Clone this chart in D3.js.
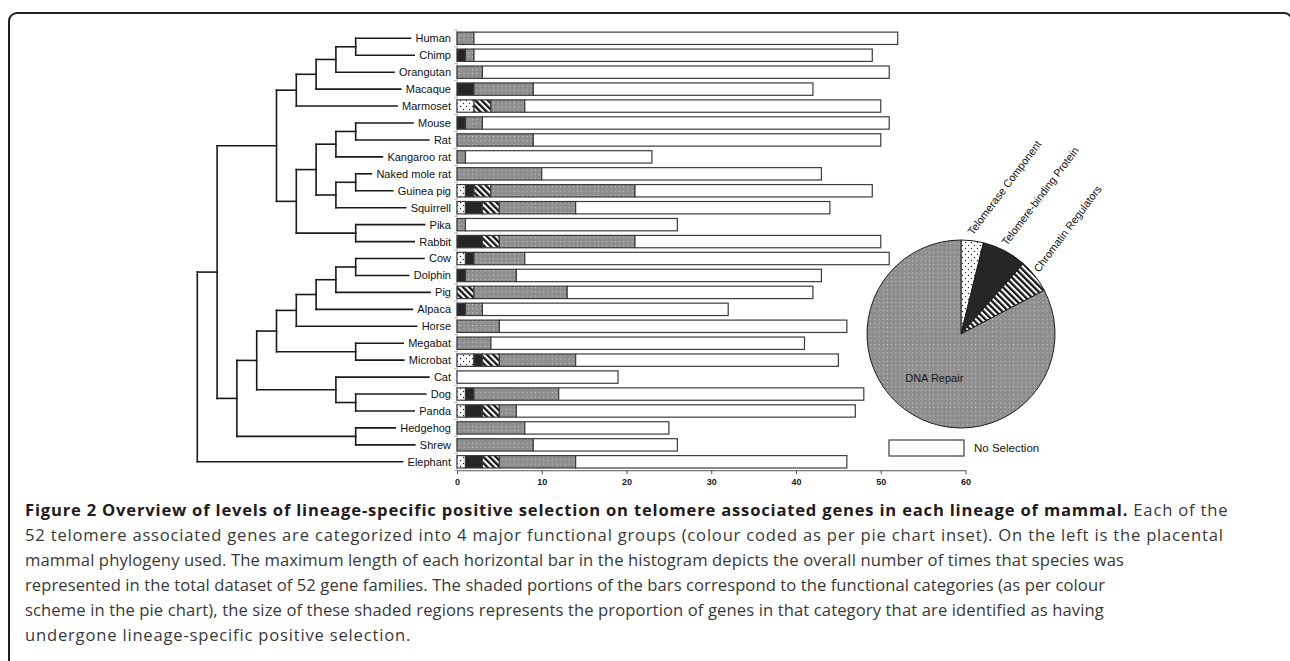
<!DOCTYPE html>
<html><head><meta charset="utf-8">
<script src="https://cdn.jsdelivr.net/npm/d3@7"></script>
<style>body{margin:0;background:#fff}svg{display:block}</style>
</head><body>
<svg id="chart" width="1290" height="661"></svg>
<script>
// ---------------- DATA ----------------
const species = ["Human","Chimp","Orangutan","Macaque","Marmoset","Mouse","Rat","Kangaroo rat","Naked mole rat","Guinea pig","Squirrell","Pika","Rabbit","Cow","Dolphin","Pig","Alpaca","Horse","Megabat","Microbat","Cat","Dog","Panda","Hedgehog","Shrew","Elephant"];
const telomerase = [0,0,0,0,2,0,0,0,0,1,1,0,0,1,0,0,0,0,0,2,0,1,1,0,0,1];
const telomereBinding = [0,1,0,2,0,1,0,0,0,1,2,0,3,1,1,0,1,0,0,1,0,1,2,0,0,2];
const chromatin = [0,0,0,0,2,0,0,0,0,2,2,0,2,0,0,2,0,0,0,2,0,0,2,0,0,2];
const dnaRepair = [2,1,3,7,4,2,9,1,10,17,9,1,16,6,6,11,2,5,4,9,0,10,2,8,9,9];
const totals = [52,49,51,42,50,51,50,23,43,49,44,26,50,51,43,42,32,46,41,45,19,48,47,25,26,46];
const xTicks = [0,10,20,30,40,50,60];

const pieCategories = ["Telomerase Component","Telomere-binding Protein","Chromatin Regulators","DNA Repair"];
const pieValues = [2,4,3,43];
const legendLabel = "No Selection";

// phylogeny (nested pairs)
const tree = [
  [
    [
      [[[["Human","Chimp"],"Orangutan"],"Macaque"],"Marmoset"],
      [[[["Mouse","Rat"],"Kangaroo rat"],[["Naked mole rat","Guinea pig"],"Squirrell"]],["Pika","Rabbit"]]
    ],
    [
      [[[[[["Cow","Dolphin"],"Pig"],"Alpaca"],"Horse"],["Megabat","Microbat"]],["Cat",["Dog","Panda"]]],
      ["Hedgehog","Shrew"]
    ]
  ],
  "Elephant"
];

const captionBold = "Figure 2 Overview of levels of lineage-specific positive selection on telomere associated genes in each lineage of mammal.";
const captionLines = [
  " Each of the",
  "52 telomere associated genes are categorized into 4 major functional groups (colour coded as per pie chart inset). On the left is the placental",
  "mammal phylogeny used. The maximum length of each horizontal bar in the histogram depicts the overall number of times that species was",
  "represented in the total dataset of 52 gene families. The shaded portions of the bars correspond to the functional categories (as per colour",
  "scheme in the pie chart), the size of these shaded regions represents the proportion of genes in that category that are identified as having",
  "undergone lineage-specific positive selection."
];

// ---------------- DRAW ----------------
const svg = d3.select("#chart");
const defs = svg.append("defs");

// patterns
const pg = defs.append("pattern").attr("id","dotGray").attr("patternUnits","userSpaceOnUse")
  .attr("width",4.2).attr("height",4.2);
pg.append("rect").attr("width",4.2).attr("height",4.2).attr("fill","#8e8e8e");
pg.append("rect").attr("x",1.6).attr("y",1.6).attr("width",1).attr("height",1).attr("fill","#cfcfcf");

const pw = defs.append("pattern").attr("id","dotWhite").attr("patternUnits","userSpaceOnUse")
  .attr("width",6).attr("height",6);
pw.append("rect").attr("width",6).attr("height",6).attr("fill","#fff");
pw.append("circle").attr("cx",1.5).attr("cy",1.5).attr("r",0.65).attr("fill","#222");
pw.append("circle").attr("cx",4.5).attr("cy",4.5).attr("r",0.65).attr("fill","#222");

const ph = defs.append("pattern").attr("id","hatch").attr("patternUnits","userSpaceOnUse")
  .attr("width",4.4).attr("height",4.4).attr("patternTransform","rotate(-45)");
ph.append("rect").attr("width",4.4).attr("height",4.4).attr("fill","#fff");
ph.append("rect").attr("width",2.3).attr("height",4.4).attr("fill","#141414");

const fills = ["url(#dotWhite)","#262626","url(#hatch)","url(#dotGray)","#ffffff"];

// frame
svg.append("path")
  .attr("d","M9,664 L9,21 A8,8 0 0 1 17,13 L1284,13 A8,8 0 0 1 1292,21 L1292,664")
  .attr("fill","none").attr("stroke","#231f20").attr("stroke-width",2);

// scales
const xs = d3.scaleLinear().domain([0,60]).range([457,965.5]);
const step = 16.94;
const ys = d3.scaleBand().domain(species)
  .range([38.3 - step/2, 38.3 + step*(species.length-0.5)])
  .paddingInner(0.27).paddingOuter(0.135);
const bw = ys.bandwidth();
const cy = n => ys(n) + bw/2;

// stacked bars
const keys = ["tel","bind","chrom","dna","none"];
const rows = species.map((s,i)=>({
  name:s, tel:telomerase[i], bind:telomereBinding[i], chrom:chromatin[i], dna:dnaRepair[i],
  none: totals[i]-telomerase[i]-telomereBinding[i]-chromatin[i]-dnaRepair[i]
}));
const stacked = d3.stack().keys(keys)(rows);

// y-axis guide line with tick marks
const yAxisG = svg.append("g");
yAxisG.append("line").attr("x1",xs(0)).attr("x2",xs(0))
  .attr("y1",ys.range()[0]).attr("y2",ys.range()[1])
  .attr("stroke","#b5b5b5").attr("stroke-width",1);
yAxisG.selectAll("line.t").data(species.concat(["__end"])).join("line").attr("class","t")
  .attr("x1",xs(0)-3).attr("x2",xs(0))
  .attr("y1",(d,i)=> i<species.length ? ys(d)-ys.step()*ys.paddingInner()/2 : ys.range()[1])
  .attr("y2",(d,i)=> i<species.length ? ys(d)-ys.step()*ys.paddingInner()/2 : ys.range()[1])
  .attr("stroke","#b5b5b5");

const barG = svg.append("g");
stacked.forEach((layer,k)=>{
  barG.append("g").selectAll("rect").data(layer.filter(d=>d[1]-d[0]>0)).join("rect")
    .attr("x",d=>xs(d[0])).attr("y",d=>ys(d.data.name))
    .attr("width",d=>xs(d[1])-xs(d[0])).attr("height",bw)
    .attr("fill",fills[k]).attr("stroke","#3c3c3c").attr("stroke-width",1.2);
});

// x axis
const xAxis = d3.axisBottom(xs).tickValues(xTicks).tickSize(4).tickSizeOuter(0).tickFormat(d3.format("d"));
const xg = svg.append("g").attr("transform",`translate(0,${ys.range()[1]})`).call(xAxis);
xg.select(".domain").attr("stroke","#555").attr("stroke-width",1.2);
xg.selectAll(".tick line").attr("stroke","#555");
xg.selectAll("text").attr("font-family","Liberation Sans, Arial, sans-serif")
  .attr("font-size",9).attr("font-weight","bold").attr("fill","#222").attr("dy","0.9em");

// species labels
const labelX = 451;
const labels = svg.append("g").selectAll("text").data(species).join("text")
  .attr("x",labelX).attr("y",d=>cy(d)).attr("dy","0.36em")
  .attr("text-anchor","end")
  .attr("font-family","Liberation Sans, Arial, sans-serif").attr("font-size",11).attr("fill","#111")
  .text(d=>d);
const labelStart = {};
labels.each(function(d){ labelStart[d] = labelX - this.getComputedTextLength(); });

// tree
const root = d3.hierarchy(tree, d => Array.isArray(d) ? d : null);
root.eachAfter(n=>{
  if(!n.children) n.vy = cy(n.data);
  else n.vy = d3.mean(n.children, c=>c.vy);
});
const tx = d3.scaleLinear().domain([root.height, 1]).range([197.3, 355.7]);
const treeG = svg.append("g").attr("stroke","#1a1a1a").attr("stroke-width",1.6)
  .attr("stroke-linecap","square").attr("fill","none");
root.each(n=>{
  if(n.parent){
    const x2 = n.children ? tx(n.height) : labelStart[n.data] - 5;
    treeG.append("line").attr("x1",tx(n.parent.height)).attr("x2",x2)
      .attr("y1",n.vy).attr("y2",n.vy);
  }
  if(n.children){
    treeG.append("line").attr("x1",tx(n.height)).attr("x2",tx(n.height))
      .attr("y1",n.children[0].vy).attr("y2",n.children[n.children.length-1].vy);
  }
});

// pie
const pieR = 94;
const pieG = svg.append("g").attr("transform","translate(961,334)");
const pieArcs = d3.pie().sort(null).value(d=>d)(pieValues);
const arc = d3.arc().innerRadius(0).outerRadius(pieR);
const pieFills = [fills[0],fills[1],fills[2],fills[3]];
pieG.selectAll("path").data(pieArcs).join("path")
  .attr("d",arc).attr("fill",(d,i)=>pieFills[i]).attr("stroke","#1e1e1e").attr("stroke-width",1);
pieG.selectAll("text.outer").data(pieArcs.slice(0,3)).join("text").attr("class","outer")
  .attr("transform",(d,i)=>{
    const a=(d.startAngle+d.endAngle)/2, r=pieR+5;
    return `translate(${Math.sin(a)*r},${-Math.cos(a)*r}) rotate(-53)`;
  })
  .attr("font-family","Liberation Sans, Arial, sans-serif").attr("font-size",10.8).attr("fill","#111")
  .text((d,i)=>pieCategories[i]);
const innerArc = d3.arc().innerRadius(pieR*0.55).outerRadius(pieR*0.55);
pieG.append("text").datum(pieArcs[3])
  .attr("transform",d=>`translate(${innerArc.centroid(d)})`)
  .attr("text-anchor","middle").attr("dy","0.36em")
  .attr("font-family","Liberation Sans, Arial, sans-serif").attr("font-size",11).attr("fill","#1a1a1a")
  .text(pieCategories[3]);

// legend
svg.append("rect").attr("x",889).attr("y",440).attr("width",75).attr("height",16)
  .attr("fill","#fff").attr("stroke","#3c3c3c").attr("stroke-width",1.2);
svg.append("text").attr("x",974).attr("y",448).attr("dy","0.36em")
  .attr("font-family","Liberation Sans, Arial, sans-serif").attr("font-size",11.5).attr("fill","#111")
  .text(legendLabel);

// caption
const capX = 25, capY0 = 516, capDY = 25;
const capTargets = [1233,1242,1099,1080,1079,422];
const baseFs = 15.5;
const capG = svg.append("g").attr("font-family","'Open Sans', sans-serif").attr("font-size",baseFs);
const probe = capG.append("text").text(captionLines[1]);
const probeW = probe.node().getComputedTextLength();
probe.remove();
const capFs = Math.min(16.6, baseFs * capTargets[1] / probeW);
capG.attr("font-size", capFs);
captionLines.forEach((line,i)=>{
  const t = capG.append("text").attr("x",capX).attr("y",capY0+i*capDY).attr("fill","#383838");
  let nChars = line.length;
  if(i===0){
    t.append("tspan").attr("font-weight","bold").attr("fill","#1f1b1c").text(captionBold);
    t.append("tspan").text(line);
    nChars += captionBold.length;
  } else {
    t.text(line);
  }
  const w = t.node().getComputedTextLength();
  let ls = (capTargets[i]-w)/nChars;
  ls = Math.max(-0.4, Math.min(0.8, ls));
  t.attr("letter-spacing", ls.toFixed(3));
});
</script>
</body></html>
